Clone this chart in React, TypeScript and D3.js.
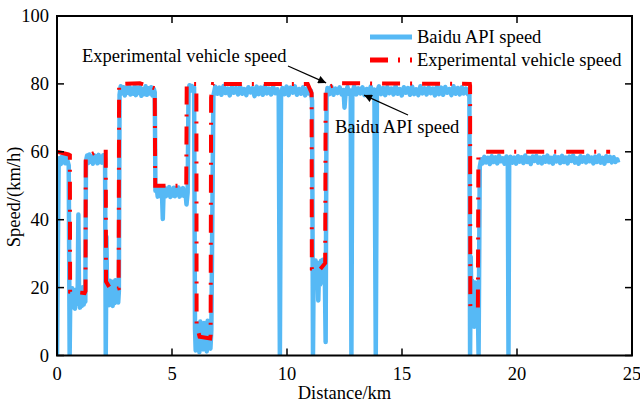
import React from 'react';
import * as d3 from 'd3';

type Pt = [number, number];

// Baidu API speed [distance km, speed km/h]
const baiduUrban: Pt[] = [
  [0, 0], [0.07, 55.5], [0.12, 58.2], [0.17, 56.4], [0.22, 58.6], [0.27, 56.9], [0.32, 58.9], [0.37, 56.6],
  [0.42, 58.3], [0.47, 57], [0.51, 56], [0.55, 0], [0.58, 19.5],
  [0.62, 14.8], [0.66, 19.8], [0.7, 14.2], [0.74, 18.9], [0.78, 13.8], [0.82, 19.4], [0.86, 15.2], [0.9, 20.2],
  [0.93, 41.5], [0.96, 16.5], [1.0, 14.1], [1.04, 19.6], [1.08, 14.6], [1.12, 20.1], [1.16, 15], [1.2, 19.3], [1.23, 15.8],
  [1.26, 57.2], [1.31, 58.9], [1.36, 56.7], [1.41, 59.2], [1.46, 57.1], [1.51, 58.6], [1.56, 56.5], [1.61, 59],
  [1.66, 57.3], [1.71, 58.7], [1.76, 56.6], [1.81, 59.1], [1.86, 57], [1.91, 58.5], [1.96, 56.8], [2.01, 59],
  [2.05, 57.4], [2.09, 58], [2.12, 0], [2.15, 35], [2.18, 15.5],
  [2.22, 21.5], [2.26, 14.8], [2.3, 22], [2.34, 15.3], [2.38, 20.6], [2.42, 14.6], [2.46, 21.8], [2.5, 15.4],
  [2.54, 22.2], [2.58, 16.1], [2.62, 20.8], [2.66, 15.6], [2.69, 19],
];

const baiduMid: Pt[] = [
  [2.72, 76.8], [2.77, 79.3], [2.83, 77.2], [2.89, 79], [2.95, 76.6], [3.01, 78.8], [3.07, 77.4], [3.13, 79.4],
  [3.19, 76.9], [3.25, 78.6], [3.31, 77.1], [3.37, 79.2], [3.43, 76.7], [3.49, 78.9], [3.55, 77.3], [3.61, 79.1],
  [3.67, 76.5], [3.73, 78.4], [3.79, 77], [3.85, 79.3], [3.91, 76.8], [3.97, 78.7], [4.03, 77.2], [4.09, 79],
  [4.15, 76.6], [4.21, 78.5], [4.25, 77.5],
  [4.28, 48.5], [4.33, 49.6], [4.38, 46.8], [4.43, 49.3], [4.48, 47], [4.53, 49.5], [4.57, 46.5], [4.6, 40.2],
  [4.63, 47.2], [4.68, 49.4], [4.73, 46.9], [4.78, 49], [4.83, 47.3], [4.88, 49.6], [4.93, 46.7], [4.98, 48.8],
  [5.03, 47.1], [5.08, 49.4], [5.13, 46.9], [5.18, 49.1], [5.23, 47.4], [5.28, 49.5], [5.33, 46.8], [5.38, 48.9],
  [5.43, 47.2], [5.48, 49.3], [5.53, 47], [5.58, 48.5], [5.63, 44.5], [5.68, 48],
  [5.72, 78.4], [5.76, 79.6], [5.81, 78], [5.86, 79.4], [5.91, 78.3], [5.96, 79],
  [6.0, 8], [6.03, 1.5], [6.07, 9.5], [6.11, 2.5], [6.15, 8.5], [6.19, 1], [6.23, 10], [6.27, 3], [6.31, 8.8],
  [6.35, 1.8], [6.39, 9.6], [6.43, 2.4], [6.47, 8.2], [6.51, 1.2], [6.55, 10.2], [6.59, 3.1], [6.63, 9], [6.67, 2],
  [6.71, 7.5],
];

const baiduHighway1: Pt[] = [
  [6.8, 76.5], [6.88, 79.2], [6.97, 77.1], [7.06, 78.9], [7.15, 76.8], [7.24, 79.4], [7.33, 77.3], [7.42, 78.6],
  [7.51, 76.6], [7.6, 79.1], [7.69, 77.4], [7.78, 78.8], [7.87, 76.9], [7.96, 79.3], [8.05, 77.1], [8.14, 78.5],
  [8.23, 76.7], [8.32, 79], [8.41, 77.5], [8.5, 78.7], [8.59, 76.4], [8.68, 79.2], [8.77, 77], [8.86, 78.9],
  [8.95, 76.8], [9.04, 79.4], [9.13, 77.2], [9.22, 78.6], [9.31, 76.9], [9.4, 79.1], [9.49, 77.3], [9.58, 78.4],
  [9.64, 76.5], [9.69, 0], [9.74, 76], [9.8, 78.8], [9.89, 77], [9.98, 79.2], [10.07, 76.7], [10.16, 78.9],
  [10.25, 77.4], [10.34, 79.3], [10.43, 76.8], [10.52, 78.5], [10.61, 77.1], [10.7, 79], [10.79, 76.6],
  [10.88, 78.7], [10.96, 77.2], [11.04, 78], [11.09, 75], [11.13, 0],
  [11.16, 27], [11.2, 21.2], [11.24, 28], [11.28, 20.4], [11.32, 27.3], [11.36, 16.2], [11.4, 26.8], [11.44, 20.9],
  [11.48, 27.9], [11.52, 21.6], [11.56, 28.2], [11.6, 22], [11.64, 26.5], [11.68, 4], [11.72, 76.5],
];

const baiduHighway2: Pt[] = [
  [11.76, 78.8], [11.84, 77], [11.93, 79.2], [12.02, 76.8], [12.11, 78.6], [12.2, 77.3], [12.29, 79], [12.38, 76.9],
  [12.46, 78.2], [12.5, 73], [12.55, 77.5], [12.63, 79.1], [12.71, 77], [12.77, 78], [12.8, 0], [12.84, 77.2],
  [12.92, 79.3], [13.01, 76.9], [13.1, 78.7], [13.19, 77.2], [13.28, 79], [13.37, 76.7], [13.46, 78.5], [13.55, 77],
  [13.64, 79.2], [13.73, 76.8], [13.8, 78.3], [13.86, 0], [13.91, 77.6], [14.0, 79.3], [14.09, 77], [14.18, 78.8],
  [14.27, 76.7], [14.36, 79.1], [14.45, 77.3], [14.54, 78.6], [14.63, 76.9], [14.72, 79.4], [14.81, 77.1],
  [14.9, 78.5], [14.99, 76.6], [15.08, 79], [15.17, 77.4], [15.26, 78.8], [15.35, 76.8], [15.44, 79.2], [15.53, 77],
  [15.62, 78.4], [15.71, 76.7], [15.8, 79.3], [15.89, 77.2], [15.98, 78.7], [16.07, 76.9], [16.16, 79],
  [16.25, 77.3], [16.34, 78.6], [16.43, 76.6], [16.52, 79.2], [16.61, 77], [16.7, 78.9], [16.79, 76.8],
  [16.88, 79.1], [16.97, 77.4], [17.06, 78.5], [17.15, 76.7], [17.24, 79.3], [17.33, 77.1], [17.42, 78.8],
  [17.51, 76.9], [17.6, 79], [17.69, 77.2], [17.78, 78.6], [17.87, 77], [17.93, 78.2], [17.96, 0],
];

const baiduTail: Pt[] = [
  [17.99, 29], [18.02, 12], [18.05, 22], [18.08, 9], [18.11, 20], [18.14, 8.5], [18.17, 21.5], [18.2, 11],
  [18.23, 19], [18.26, 9.5], [18.29, 18], [18.33, 0], [18.38, 55.5], [18.44, 57.8],
  [18.5, 56.6], [18.58, 58.5], [18.66, 56.9], [18.74, 58.2], [18.82, 56.4], [18.9, 58.7], [18.98, 57], [19.06, 58.4],
  [19.14, 56.6], [19.22, 58.8], [19.3, 57.2], [19.38, 58.1], [19.46, 56.5], [19.54, 58.6], [19.6, 57.4], [19.63, 0],
  [19.66, 57], [19.72, 58.5], [19.8, 56.8], [19.88, 58.3], [19.96, 56.5], [20.04, 58.7], [20.12, 57.1], [20.2, 58.4],
  [20.28, 56.7], [20.36, 58.9], [20.44, 57], [20.52, 58.2], [20.6, 56.4], [20.68, 58.6], [20.76, 57.3], [20.84, 58.8],
  [20.92, 56.8], [21.0, 58.3], [21.08, 56.6], [21.16, 58.5], [21.24, 57.1], [21.32, 58.9], [21.4, 56.9], [21.48, 58.2],
  [21.56, 56.5], [21.64, 58.7], [21.72, 57.2], [21.8, 58.4], [21.88, 56.7], [21.96, 58.8], [22.04, 57], [22.12, 58.3],
  [22.2, 56.6], [22.28, 58.6], [22.36, 57.3], [22.44, 58.9], [22.52, 56.8], [22.6, 58.1], [22.68, 56.5], [22.76, 58.7],
  [22.84, 57.1], [22.92, 58.4], [23.0, 56.9], [23.08, 58.8], [23.16, 57.2], [23.24, 58.3], [23.32, 56.6], [23.4, 58.6],
  [23.48, 57], [23.56, 58.9], [23.64, 56.8], [23.72, 58.2], [23.8, 56.5], [23.88, 58.7], [23.96, 57.3], [24.04, 58.5],
  [24.12, 56.9], [24.2, 58.4], [24.28, 57], [24.36, 57.8], [24.4, 56.8],
];

// Experimental vehicle speed
const vehicleSpeed: Pt[] = [
  [0, 60], [0.5, 59.2], [0.56, 59], [0.57, 18.8], [1.2, 18.4], [1.24, 19], [1.25, 58.6], [1.73, 60],
  [2.12, 60], [2.13, 21.8], [2.35, 19.3], [2.68, 19.8], [2.7, 80], [3.6, 80.2], [4.25, 78.7], [4.27, 50],
  [5.62, 50], [5.64, 80], [6.06, 80], [6.07, 9], [6.2, 5.5], [6.66, 5], [6.68, 6], [6.7, 76], [6.78, 80],
  [10.9, 80], [11.07, 77.3], [11.08, 25.5], [11.36, 24.7], [11.66, 27.2], [11.68, 78.8], [12.3, 80.2],
  [17.95, 80], [17.96, 79.5], [17.97, 14], [18.3, 14], [18.32, 58.4], [18.6, 60], [24.05, 60],
];

const xTicks = [0, 5, 10, 15, 20, 25];
const yTicks = [0, 20, 40, 60, 80, 100];
const seriesNames = ['Baidu API speed', 'Experimental vehicle speed'];

const W = 640;
const H = 403;
const m = { left: 57, right: 632, top: 16, bottom: 355.5 };
const BLUE = '#56B9F5';
const RED = '#FF0000';
const FONT = "'Liberation Serif', 'Times New Roman', serif";
const DASH = '18 10 2 10';

export default function App() {
  const x = d3.scaleLinear().domain([0, 25]).range([m.left, m.right]);
  const y = d3.scaleLinear().domain([0, 100]).range([m.bottom, m.top]);
  const line = d3.line<Pt>().x((d) => x(d[0])).y((d) => y(d[1]));

  const baidu = [...baiduUrban, ...baiduMid, ...baiduHighway1, ...baiduHighway2, ...baiduTail];

  // annotation arrows point at data positions
  const expTip: Pt = [x(11.7), y(80.3)];
  const baiduTip: Pt = [x(13.35), y(76.7)];

  const txt = { fontFamily: FONT, fontSize: '18.5px' };

  return (
    <svg width={W} height={H} style={{ position: 'absolute', left: 0, top: 0, background: '#fff' }}>
      <defs>
        <clipPath id="plot">
          <rect x={m.left} y={m.top} width={m.right - m.left} height={m.bottom - m.top} />
        </clipPath>
        <marker id="arrow" viewBox="0 0 10 10" refX="10" refY="5" markerWidth="11" markerHeight="8" markerUnits="userSpaceOnUse" orient="auto">
          <path d="M0,0 L10,5 L0,10 z" fill="#000" />
        </marker>
      </defs>

      <g clipPath="url(#plot)">
        <path d={line(baidu) ?? ''} fill="none" stroke={BLUE} strokeWidth={4.5} strokeLinejoin="round" />
        <path d={line(vehicleSpeed) ?? ''} fill="none" stroke={RED} strokeWidth={4} strokeDasharray={DASH} />
      </g>

      {/* frame + inward ticks */}
      <rect x={m.left} y={m.top} width={m.right - m.left} height={m.bottom - m.top} fill="none" stroke="#000" strokeWidth={2} />
      {xTicks.map((t) => (
        <g key={'x' + t}>
          <line x1={x(t)} x2={x(t)} y1={m.bottom} y2={m.bottom - 7} stroke="#000" strokeWidth={1.5} />
          <line x1={x(t)} x2={x(t)} y1={m.top} y2={m.top + 7} stroke="#000" strokeWidth={1.5} />
          <text x={x(t)} y={380} textAnchor="middle" style={txt}>{t}</text>
        </g>
      ))}
      {yTicks.map((t) => (
        <g key={'y' + t}>
          <line x1={m.left} x2={m.left + 7} y1={y(t)} y2={y(t)} stroke="#000" strokeWidth={1.5} />
          <line x1={m.right} x2={m.right - 7} y1={y(t)} y2={y(t)} stroke="#000" strokeWidth={1.5} />
          <text x={49} y={y(t) + 6} textAnchor="end" style={txt}>{t}</text>
        </g>
      ))}

      <text x={(m.left + m.right) / 2} y={399} textAnchor="middle" style={txt}>Distance/km</text>
      <text transform="translate(20,197) rotate(-90)" textAnchor="middle" style={txt}>Speed/(km/h)</text>

      {/* legend */}
      <line x1={370} x2={412} y1={37} y2={37} stroke={BLUE} strokeWidth={5} />
      <text x={417} y={43} style={txt}>{seriesNames[0]}</text>
      <line x1={370} x2={412} y1={60} y2={60} stroke={RED} strokeWidth={5} strokeDasharray={DASH} />
      <text x={417} y={66} style={txt}>{seriesNames[1]}</text>

      {/* annotations */}
      <text x={82} y={62} style={txt}>{seriesNames[1]}</text>
      <line x1={288} y1={66} x2={expTip[0]} y2={expTip[1]} stroke="#000" strokeWidth={1.3} markerEnd="url(#arrow)" />
      <text x={335} y={133} style={txt}>{seriesNames[0]}</text>
      <line x1={408} y1={115} x2={baiduTip[0]} y2={baiduTip[1]} stroke="#000" strokeWidth={1.3} markerEnd="url(#arrow)" />
    </svg>
  );
}
